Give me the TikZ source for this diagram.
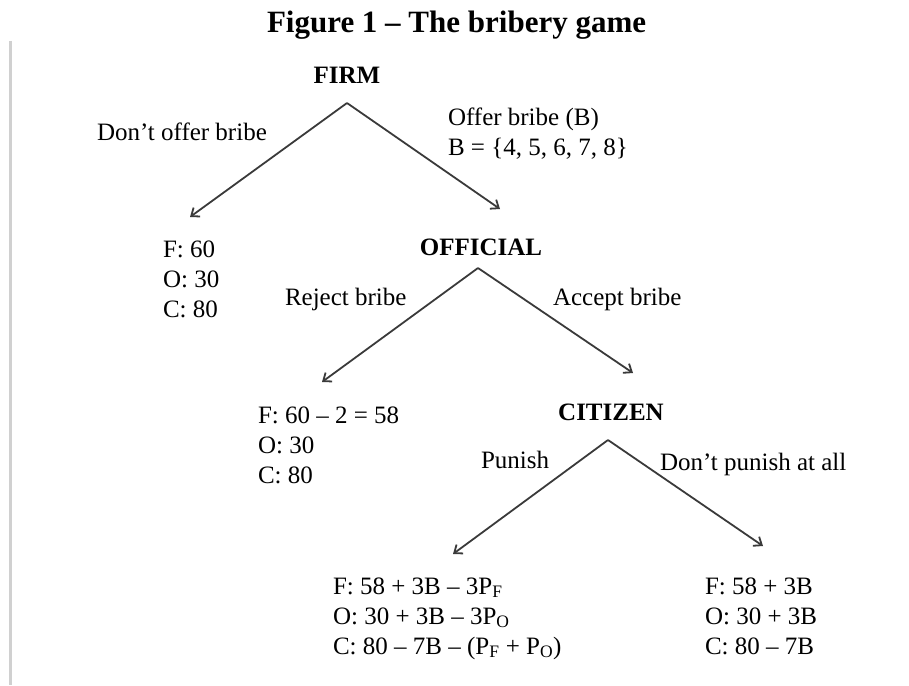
\documentclass[tikz,border=0pt]{standalone}
\usepackage{fontspec}
\setmainfont{Liberation Serif}
\usetikzlibrary{arrows.meta}
\definecolor{edgegray}{HTML}{3A3A3A}
\definecolor{rulegray}{HTML}{D0D0D0}
\newcommand{\payoff}[1]{\begin{tabular}[t]{@{}l@{}}#1\end{tabular}}
\begin{document}
\begin{tikzpicture}[x=1pt,y=-1pt,
  every node/.style={inner sep=0pt, outer sep=0pt, font=\fontsize{25}{30}\selectfont},
  player/.style={anchor=base, font=\fontsize{25}{30}\selectfont\bfseries},
  lbl/.style={anchor=base west},
  leaf/.style={anchor=base west},
  branch/.style={draw=edgegray, line width=1.8pt, -{Straight Barb[length=7pt,width=11pt]}},
]
\useasboundingbox (0,0) rectangle (909,685);
% left margin rule
\draw[rulegray, line width=2.2pt] (10.5,41) -- (10.5,685);
% title
\node[anchor=base west, font=\fontsize{31}{36}\selectfont\bfseries] (title) at (267,33) {Figure 1 – The bribery game};
% players
\node[player] (firm) at (347,83) {FIRM};
\node[player] (official) at (481,255) {OFFICIAL};
\node[player] (citizen) at (611,420) {CITIZEN};
% branch vertices and tips
\coordinate (firmv) at (347,103);
\coordinate (offv) at (478,268);
\coordinate (citv) at (608,440);
\coordinate (t1) at (190,217);
\coordinate (t2) at (500,209);
\coordinate (t3) at (322,382);
\coordinate (t4) at (633,373);
\coordinate (t5) at (453,554);
\coordinate (t6) at (763,546);
% connectors
\draw[branch] (firmv) -- (t1);
\draw[branch] (firmv) -- (t2);
\draw[branch] (offv) -- (t3);
\draw[branch] (offv) -- (t4);
\draw[branch] (citv) -- (t5);
\draw[branch] (citv) -- (t6);
% branch labels
\node[lbl] (dontoffer) at (97,140) {Don’t offer bribe};
\node[lbl] (offer) at (448,125) {\payoff{Offer bribe (B)\\B = \{4, 5, 6, 7, 8\}}};
\node[lbl] (reject) at (285,305) {Reject bribe};
\node[lbl] (accept) at (553,305) {Accept bribe};
\node[lbl] (punish) at (481,468) {Punish};
\node[lbl] (nopunish) at (660,470) {Don’t punish at all};
% payoffs
\node[leaf] (leaf1) at (163,257) {\payoff{F: 60\\O: 30\\C: 80}};
\node[leaf] (leaf2) at (258,423) {\payoff{F: 60 – 2 = 58\\O: 30\\C: 80}};
\node[leaf] (leaf3) at (333,594) {\payoff{F: 58 + 3B – 3P\textsubscript{F}\\O: 30 + 3B – 3P\textsubscript{O}\\C: 80 – 7B – (P\textsubscript{F} + P\textsubscript{O})}};
\node[leaf] (leaf4) at (705,594) {\payoff{F: 58 + 3B\\O: 30 + 3B\\C: 80 – 7B}};
\end{tikzpicture}
\end{document}
